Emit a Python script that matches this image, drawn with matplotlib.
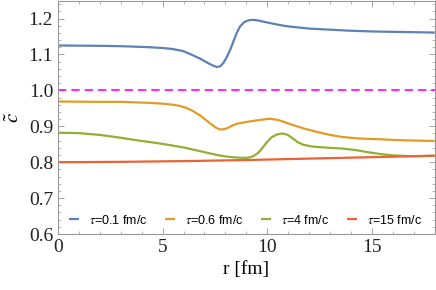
import matplotlib
matplotlib.use('Agg')
import matplotlib.pyplot as plt
from matplotlib.ticker import MultipleLocator

plt.rcParams.update({'font.family': 'Liberation Serif', 'mathtext.fontset': 'stix'})

# tau = 0.1 fm/c
r_a = [0, 2, 3, 4, 4.4, 5, 5.5, 6, 6.4, 6.8, 7.2, 7.45, 7.6, 7.75, 7.9, 8.07, 8.25, 8.4, 8.55, 8.7, 8.9, 9.05, 9.2, 9.4, 9.6, 10, 10.5, 11, 12, 13, 14, 15, 16, 17, 18]
c_a = [1.125, 1.124, 1.123, 1.121, 1.120, 1.118, 1.115, 1.109, 1.099, 1.088, 1.075, 1.068, 1.065, 1.067, 1.076, 1.093, 1.116, 1.139, 1.161, 1.178, 1.190, 1.194, 1.196, 1.196, 1.194, 1.189, 1.183, 1.178, 1.172, 1.169, 1.166, 1.164, 1.163, 1.162, 1.161]
# tau = 0.6 fm/c
r_b = [0, 2, 3, 4, 4.4, 5, 5.5, 5.8, 6.1, 6.4, 6.8, 7.27, 7.55, 7.7, 7.83, 7.95, 8.1, 8.3, 8.55, 8.9, 9.2, 9.7, 10.1, 10.5, 11.2, 11.8, 12.4, 13, 13.6, 14.4, 15.3, 16.5, 18]
c_b = [0.969, 0.968, 0.968, 0.966, 0.965, 0.963, 0.960, 0.957, 0.952, 0.944, 0.930, 0.908, 0.896, 0.892, 0.891, 0.892, 0.895, 0.901, 0.907, 0.911, 0.914, 0.918, 0.921, 0.918, 0.904, 0.893, 0.884, 0.876, 0.870, 0.866, 0.864, 0.861, 0.859]
# tau = 4 fm/c
r_c = [0, 1, 2, 3, 4, 4.4, 5, 6, 7, 7.6, 8, 8.5, 9, 9.2, 9.4, 9.6, 9.8, 10, 10.2, 10.45, 10.7, 10.95, 11.2, 11.45, 11.7, 12.1, 12.5, 13, 13.6, 14.2, 14.9, 15.5, 16, 16.7, 17.3, 18]
c_c = [0.882, 0.881, 0.876, 0.868, 0.859, 0.856, 0.851, 0.841, 0.828, 0.820, 0.816, 0.813, 0.812, 0.814, 0.819, 0.828, 0.842, 0.857, 0.869, 0.877, 0.880, 0.877, 0.867, 0.856, 0.849, 0.844, 0.842, 0.840, 0.838, 0.834, 0.827, 0.822, 0.819, 0.817, 0.817, 0.818]
# tau = 15 fm/c
r_d = [0, 3, 6, 9, 12, 15, 18]
c_d = [0.800, 0.801, 0.803, 0.806, 0.810, 0.814, 0.818]

labels = [r'$\tau$=0.1 fm/c', r'$\tau$=0.6 fm/c', r'$\tau$=4 fm/c', r'$\tau$=15 fm/c']
colors = ['#5E81B5', '#E19C24', '#8FB032', '#EB6235']

fig = plt.figure(figsize=(4.36, 2.90), dpi=100)
ax = fig.add_axes([0.133, 0.193, 0.864, 0.805])

for r, c, lab, col in zip([r_a, r_b, r_c, r_d], [c_a, c_b, c_c, c_d], labels, colors):
    ax.plot(r, c, color=col, lw=1.6, label=lab, solid_capstyle='butt')
ax.axhline(1.0, color='#FF00FF', lw=1.2, dashes=(5, 3))

ax.set_xlim(0, 18)
ax.set_ylim(0.6, 1.25)
ax.xaxis.set_major_locator(MultipleLocator(5))
ax.xaxis.set_minor_locator(MultipleLocator(1))
ax.yaxis.set_major_locator(MultipleLocator(0.1))
ax.yaxis.set_minor_locator(MultipleLocator(0.02))
ax.yaxis.set_major_formatter(matplotlib.ticker.FormatStrFormatter('%.1f'))
ax.tick_params(which='both', direction='in', top=True, right=True, color='#999999', labelsize=14, labelcolor='#222222')
ax.tick_params(which='major', length=4.3, width=0.6)
ax.tick_params(which='minor', length=2.2, width=0.5)
for s in ax.spines.values():
    s.set_color('#999999')
    s.set_linewidth(0.8)

ax.set_xlabel('r [fm]', fontsize=14, labelpad=4)
ax.set_ylabel(r'$\tilde{c}$', fontsize=15, labelpad=3)

leg = ax.legend(loc='center', bbox_to_anchor=(0.497, 0.06), ncol=4, frameon=False,
                handlelength=0.8, handletextpad=0.8, columnspacing=1.4,
                prop={'family': 'Liberation Sans', 'size': 9})

fig.savefig('out.png', dpi=100)
